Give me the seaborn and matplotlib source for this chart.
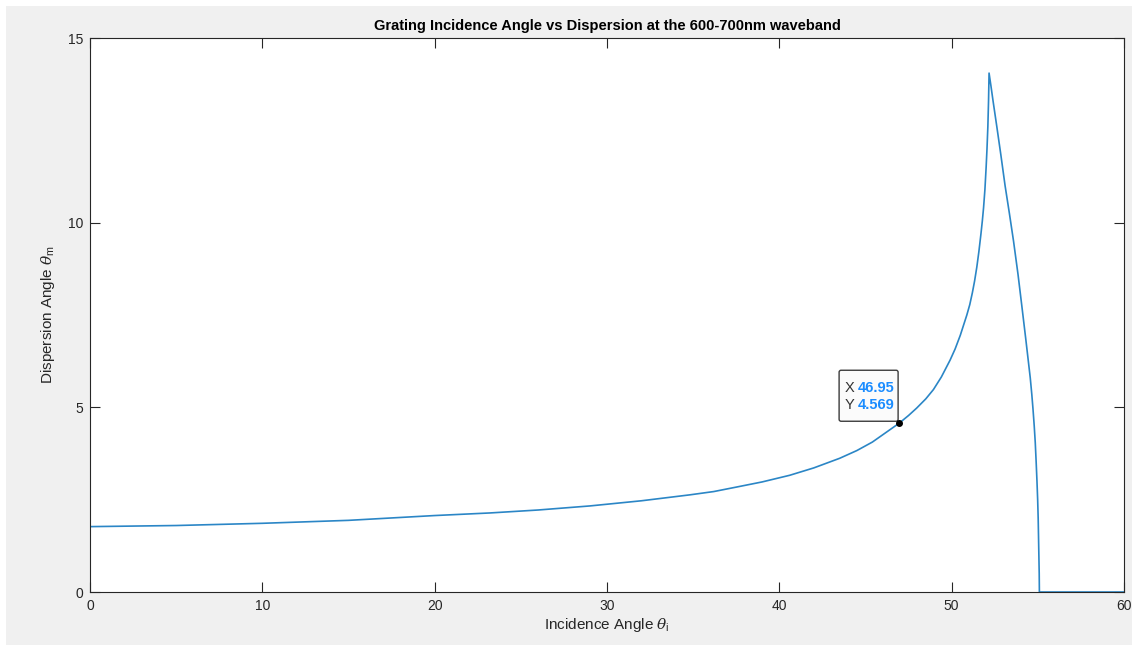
import matplotlib
matplotlib.use("Agg")
import matplotlib.pyplot as plt
import matplotlib.transforms as mtransforms
from matplotlib.patches import FancyBboxPatch, Rectangle
import pandas as pd
import seaborn as sns

# values
incidence = [0, 5, 10, 15, 20, 23.2, 26, 29, 32, 34.8, 36.2, 37.5, 39, 40.6,
             41.3, 42, 43.5, 44.5, 45.4, 46.95, 47.5, 47.97, 48.5, 48.94, 49.4,
             49.91, 50.2, 50.5, 50.88, 51.05, 51.2, 51.33, 51.46, 51.58, 51.7,
             51.78, 51.85, 51.93, 52.0, 52.05, 52.1, 52.14, 52.17, 52.28, 52.4,
             52.62, 52.85, 53.1, 53.35, 53.59, 53.85, 54.07, 54.3, 54.56, 54.65,
             54.72, 54.79, 54.85, 54.9, 54.95, 54.99, 55.02, 55.04, 55.06,
             55.08, 55.09, 60]
dispersion = [1.77, 1.80, 1.86, 1.94, 2.07, 2.14, 2.22, 2.33, 2.47, 2.63, 2.72,
              2.84, 2.98, 3.16, 3.26, 3.36, 3.62, 3.83, 4.06, 4.569, 4.78, 4.98,
              5.23, 5.48, 5.82, 6.28, 6.58, 6.95, 7.50, 7.78, 8.10, 8.42, 8.80,
              9.22, 9.70, 10.05, 10.4, 10.9, 11.5, 12.0, 12.6, 13.3, 14.05,
              13.7, 13.3, 12.6, 11.85, 11.0, 10.25, 9.5, 8.6, 7.75, 6.85, 5.8,
              5.35, 4.95, 4.5, 4.05, 3.55, 3.0, 2.5, 2.0, 1.5, 1.0, 0.5, 0, 0]

tip_x = 46.95
tip_y = 4.569
x_ticks = [0, 10, 20, 30, 40, 50, 60]
y_ticks = [0, 5, 10, 15]

df = pd.DataFrame({"incidence": incidence, "dispersion": dispersion})

sns.set_theme(style="ticks")
plt.rcParams["font.family"] = ["Liberation Sans", "DejaVu Sans"]
plt.rcParams["mathtext.fontset"] = "dejavuserif"

axis_col = "#262626"
fig = plt.figure(figsize=(11.38, 6.51), dpi=100, facecolor="white")
# grey MATLAB-style figure panel inside a thin white frame
fig.patches.append(Rectangle((6 / 1138, 6 / 651), 1126 / 1138, 639 / 651,
                             transform=fig.transFigure, facecolor="#f0f0f0",
                             edgecolor="none", zorder=-10))
ax = fig.add_axes([90 / 1138, 59 / 651, 1034 / 1138, 554 / 651])
ax.set_facecolor("white")

sns.lineplot(data=df, x="incidence", y="dispersion", color="#2b86c6",
             linewidth=1.2, sort=False, estimator=None, ax=ax)

ax.set_xlim(0, 60)
ax.set_ylim(0, 15)
ax.set_xticks(x_ticks)
ax.set_yticks(y_ticks)
for s in ax.spines.values():
    s.set_visible(True)
    s.set_color(axis_col)
    s.set_linewidth(0.8)
ax.tick_params(direction="in", length=7, width=0.8, colors=axis_col,
               labelsize=10, top=True, right=True, pad=5)

ax.set_title("Grating Incidence Angle vs Dispersion at the 600-700nm waveband",
             fontsize=10.5, fontweight="bold", color="black", pad=6)
ax.set_xlabel(r"Incidence Angle $\theta_\mathregular{i}$", fontsize=11,
              color=axis_col, labelpad=2)
ax.set_ylabel(r"Dispersion Angle $\theta_\mathregular{m}$", fontsize=11,
              color=axis_col, labelpad=8)

# data tip, laid out in pixels relative to the marked point
tip = mtransforms.Affine2D() + mtransforms.ScaledTranslation(tip_x, tip_y, ax.transData)
ax.plot([tip_x], [tip_y], "o", color="black", markersize=4, zorder=5)
box = FancyBboxPatch((-60, 2), 59, 51, boxstyle="round,pad=0,rounding_size=2",
                     transform=tip, facecolor="#fbfbfb", edgecolor="#3c3c3c",
                     linewidth=1.0, zorder=4, clip_on=False)
ax.add_patch(box)
ax.text(-54, 35, "X", transform=tip, fontsize=10.5, color="#333333",
        va="center", ha="left", zorder=6)
ax.text(-54, 18, "Y", transform=tip, fontsize=10.5, color="#333333",
        va="center", ha="left", zorder=6)
ax.text(-41, 35, f"{tip_x:.2f}", transform=tip, fontsize=10.5, color="#1a8cff",
        fontweight="bold", va="center", ha="left", zorder=6)
ax.text(-41, 18, f"{tip_y:.3f}", transform=tip, fontsize=10.5, color="#1a8cff",
        fontweight="bold", va="center", ha="left", zorder=6)

fig.savefig("out.png", dpi=100)
